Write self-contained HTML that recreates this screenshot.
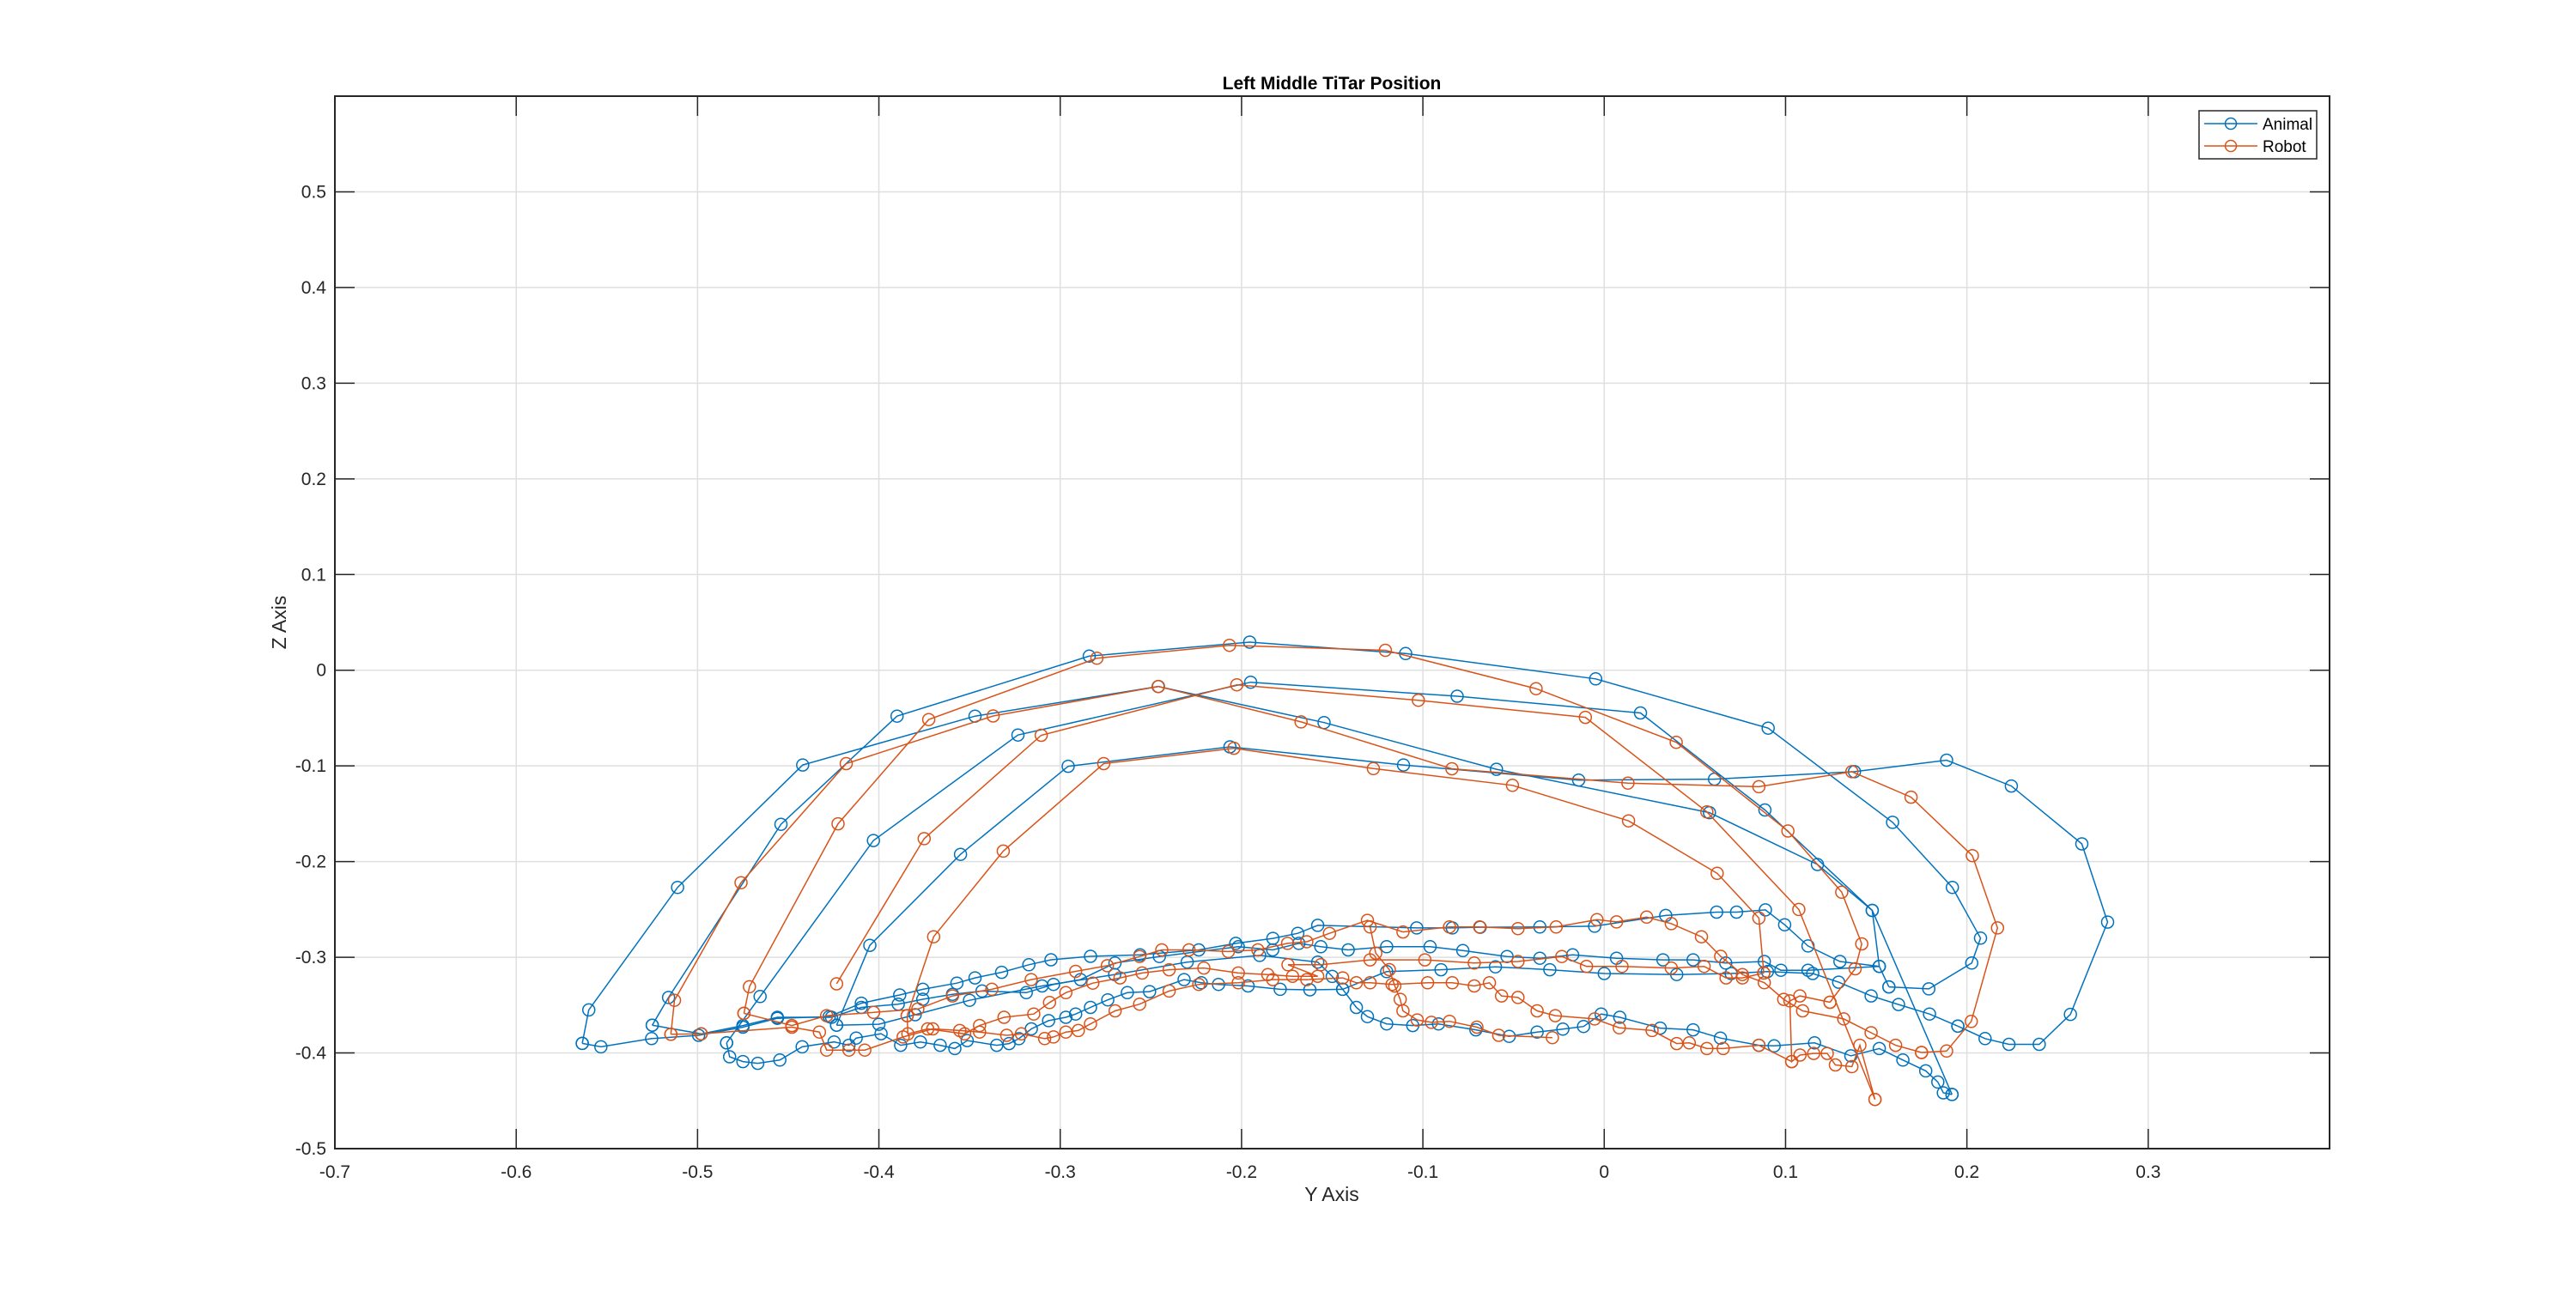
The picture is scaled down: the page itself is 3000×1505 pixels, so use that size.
<!DOCTYPE html>
<html><head><meta charset="utf-8"><style>
html,body{margin:0;padding:0;background:#fff;}
svg{display:block;font-family:"Liberation Sans",Arial,sans-serif;}
</style></head><body>
<svg id="chart" width="3000" height="1505" viewBox="0 0 3000 1505" xmlns="http://www.w3.org/2000/svg">
<rect x="0" y="0" width="3000" height="1505" fill="#fff"/>
<g id="grid"></g>
<g id="series"></g>
<g id="axes"></g>
<text x="1551" y="104" text-anchor="middle" font-size="21" font-weight="bold" fill="#000">Left Middle TiTar Position</text>
<text x="1551" y="1399" text-anchor="middle" font-size="23" fill="#262626">Y Axis</text>
<text x="0" y="0" transform="translate(333,725) rotate(-90)" text-anchor="middle" font-size="23" fill="#262626">Z Axis</text>
<g>
<rect x="2561" y="129" width="137" height="56" fill="#fff" stroke="#262626" stroke-width="1.5"/>
<g>
<line x1="2567" y1="144" x2="2629" y2="144" stroke="#0072BD" stroke-width="1.5"/>
<circle cx="2598" cy="144" r="6.5" fill="none" stroke="#0072BD" stroke-width="1.5"/>
<text x="2635" y="151" font-size="19" fill="#000">Animal</text></g>
<g>
<line x1="2567" y1="170" x2="2629" y2="170" stroke="#D95319" stroke-width="1.5"/>
<circle cx="2598" cy="170" r="6.5" fill="none" stroke="#D95319" stroke-width="1.5"/>
<text x="2635" y="177" font-size="19" fill="#000">Robot</text></g>
</g>
</svg>
<script>
const xTicks=[-0.7,-0.6,-0.5,-0.4,-0.3,-0.2,-0.1,0,0.1,0.2,0.3];
const xTickLabels=["-0.7","-0.6","-0.5","-0.4","-0.3","-0.2","-0.1","0","0.1","0.2","0.3"];
const yTicks=[-0.5,-0.4,-0.3,-0.2,-0.1,0,0.1,0.2,0.3,0.4,0.5];
const yTickLabels=["-0.5","-0.4","-0.3","-0.2","-0.1","0","0.1","0.2","0.3","0.4","0.5"];
const xLim=[-0.7,0.4], yLim=[-0.5,0.6];

const animalSwingA=[[-0.5636,-0.39],[-0.56,-0.355],[-0.511,-0.227],[-0.442,-0.099],[-0.347,-0.048],[-0.246,-0.017],[-0.1545,-0.0547],[-0.0594,-0.1035],[0.058,-0.1488],[0.1176,-0.203],[0.1478,-0.251],[0.1517,-0.3095]];
const animalSwingB=[[-0.525,-0.371],[-0.516,-0.342],[-0.454,-0.161],[-0.390,-0.048],[-0.284,0.0147],[-0.1955,0.0294],[-0.1095,0.0174],[-0.0047,-0.009],[0.0904,-0.0605],[0.159,-0.159],[0.192,-0.227],[0.2075,-0.28],[0.2027,-0.306],[0.179,-0.333],[0.157,-0.331]];
const animalSwingC=[[-0.484,-0.3895],[-0.4655,-0.341],[-0.403,-0.178],[-0.3233,-0.0677],[-0.195,-0.0125],[-0.0811,-0.0272],[0.02,-0.0447],[0.0886,-0.146],[0.1478,-0.251],[0.1918,-0.4434]];
const animalSwingD=[[-0.4233,-0.371],[-0.405,-0.2875],[-0.355,-0.1924],[-0.2956,-0.1004],[-0.2064,-0.0801],[-0.1107,-0.099],[-0.0141,-0.1148],[0.0608,-0.1138],[0.138,-0.106],[0.1888,-0.094],[0.2245,-0.121],[0.2634,-0.1815],[0.2776,-0.2632],[0.2571,-0.3597],[0.2399,-0.391],[0.2232,-0.391],[0.21,-0.385],[0.195,-0.372]];
const animalStance1=[[0.157,-0.331],[0.1517,-0.3095],[0.13,-0.3044],[0.1124,-0.2882],[0.0995,-0.266],[0.0889,-0.2505],[0.073,-0.2528],[0.062,-0.2528],[0.0339,-0.2563],[-0.0053,-0.2675],[-0.0355,-0.2683],[-0.0684,-0.2686],[-0.0838,-0.2693],[-0.1034,-0.2693],[-0.158,-0.2666],[-0.169,-0.275],[-0.1827,-0.2803],[-0.2032,-0.2855],[-0.2236,-0.2923],[-0.256,-0.2975],[-0.2833,-0.299],[-0.3051,-0.3026],[-0.3173,-0.3078],[-0.3323,-0.3157],[-0.347,-0.3215],[-0.357,-0.327],[-0.3758,-0.3335],[-0.3885,-0.3394],[-0.4097,-0.348],[-0.4274,-0.362],[-0.456,-0.3638],[-0.475,-0.373],[-0.4994,-0.3816],[-0.5253,-0.385],[-0.5533,-0.3936],[-0.5636,-0.39]];
const animalStance2=[[0.1517,-0.3095],[0.1124,-0.3136],[0.0974,-0.3136],[0.0883,-0.3044],[0.067,-0.306],[0.049,-0.3027],[0.0324,-0.3027],[0.0068,-0.301],[-0.0174,-0.2975],[-0.0355,-0.301],[-0.0536,-0.2992],[-0.078,-0.293],[-0.096,-0.289],[-0.12,-0.289],[-0.1412,-0.2923],[-0.1563,-0.289],[-0.1684,-0.2855],[-0.1828,-0.2923],[-0.2018,-0.289],[-0.2453,-0.2992],[-0.2698,-0.306],[-0.2888,-0.3233],[-0.3037,-0.3284],[-0.3187,-0.337],[-0.3431,-0.3353],[-0.3594,-0.3387],[-0.3758,-0.3439],[-0.3893,-0.349],[-0.4097,-0.3524],[-0.4261,-0.3627],[-0.456,-0.3627],[-0.475,-0.3713],[-0.498,-0.38],[-0.525,-0.371]];
const animalStance3=[[0.195,-0.372],[0.1794,-0.3593],[0.1623,-0.3494],[0.1472,-0.3404],[0.1293,-0.326],[0.115,-0.317],[0.09,-0.315],[0.07,-0.317],[0.04,-0.318],[0.0,-0.317],[-0.03,-0.313],[-0.06,-0.31],[-0.09,-0.313],[-0.12,-0.315],[-0.1442,-0.3335],[-0.1623,-0.334],[-0.1787,-0.3335],[-0.1964,-0.33],[-0.2127,-0.3284],[-0.2222,-0.3267],[-0.2317,-0.3233],[-0.2507,-0.3359],[-0.263,-0.337],[-0.2738,-0.3445],[-0.2833,-0.3524],[-0.2915,-0.3593],[-0.2969,-0.3627],[-0.3064,-0.3662],[-0.3159,-0.3748],[-0.3228,-0.3851],[-0.3282,-0.3902],[-0.335,-0.392],[-0.3513,-0.387],[-0.3581,-0.3954],[-0.3662,-0.392],[-0.3771,-0.3885],[-0.388,-0.392],[-0.3988,-0.3799],[-0.4125,-0.3844],[-0.4165,-0.392],[-0.4247,-0.3885],[-0.4423,-0.3936],[-0.4546,-0.4074],[-0.4668,-0.4108],[-0.475,-0.409],[-0.4823,-0.404],[-0.484,-0.3895]];
const animalStance4=[[0.1918,-0.4434],[0.187,-0.4417],[0.184,-0.4304],[0.1773,-0.4187],[0.1647,-0.4074],[0.1517,-0.3954],[0.136,-0.403],[0.116,-0.3895],[0.0937,-0.3926],[0.0853,-0.392],[0.0641,-0.3844],[0.049,-0.3758],[0.0309,-0.374],[0.0086,-0.3627],[-0.0017,-0.3593],[-0.0114,-0.3723],[-0.0228,-0.3751],[-0.037,-0.3782],[-0.0524,-0.3826],[-0.0708,-0.3758],[-0.0914,-0.3696],[-0.1056,-0.3713],[-0.12,-0.3696],[-0.1306,-0.362],[-0.1367,-0.3524],[-0.1442,-0.3335],[-0.15,-0.32],[-0.158,-0.305],[-0.19,-0.298],[-0.23,-0.305],[-0.27,-0.318],[-0.31,-0.33],[-0.35,-0.345],[-0.38,-0.36],[-0.4,-0.37],[-0.4233,-0.371]];

const robotSwingA=[[-0.5147,-0.3805],[-0.5127,-0.345],[-0.476,-0.222],[-0.418,-0.0976],[-0.337,-0.0478],[-0.2458,-0.0169],[-0.1672,-0.054],[-0.084,-0.103],[0.0131,-0.118],[0.0853,-0.1217],[0.1366,-0.106],[0.1692,-0.1327],[0.203,-0.1938],[0.2169,-0.2693],[0.2024,-0.367],[0.1888,-0.398],[0.175,-0.3995]];
const robotSwingB=[[-0.4744,-0.3586],[-0.4714,-0.3308],[-0.4225,-0.1605],[-0.3725,-0.0516],[-0.2798,0.0126],[-0.2067,0.026],[-0.1207,0.0208],[-0.0376,-0.0193],[0.0397,-0.0753],[0.1013,-0.168],[0.131,-0.232],[0.142,-0.286],[0.1384,-0.312],[0.1245,-0.347]];
const robotSwingC=[[-0.4233,-0.3277],[-0.375,-0.176],[-0.3105,-0.068],[-0.2026,-0.0152],[-0.1025,-0.0314],[-0.0104,-0.0492],[0.0566,-0.148],[0.1073,-0.25],[0.1493,-0.4486]];
const robotSwingD=[[-0.3844,-0.361],[-0.3698,-0.2786],[-0.3314,-0.189],[-0.276,-0.0976],[-0.2042,-0.0815],[-0.1273,-0.1028],[-0.0506,-0.1203],[0.0134,-0.1574],[0.0623,-0.2123],[0.0853,-0.259],[0.088,-0.3164]];
const robotStance1=[[0.175,-0.3995],[0.1607,-0.392],[0.1472,-0.3789],[0.1321,-0.3644],[0.1094,-0.356],[0.099,-0.344],[0.0883,-0.3266],[0.0762,-0.318],[0.0642,-0.299],[0.0536,-0.2786],[0.037,-0.2648],[0.0234,-0.258],[0.0068,-0.263],[-0.004,-0.2607],[-0.0265,-0.2683],[-0.0476,-0.27],[-0.0687,-0.2683],[-0.0853,-0.2683],[-0.111,-0.2735],[-0.1306,-0.2614],[-0.1515,-0.275],[-0.164,-0.2838],[-0.1746,-0.2855],[-0.191,-0.2923],[-0.2073,-0.294],[-0.229,-0.2923],[-0.244,-0.2923],[-0.2562,-0.2992],[-0.274,-0.3088],[-0.2915,-0.3147],[-0.316,-0.3233],[-0.3377,-0.3335],[-0.3594,-0.3404],[-0.3785,-0.3541],[-0.4029,-0.3576],[-0.4288,-0.361],[-0.448,-0.3713],[-0.4744,-0.3586]];
const robotStance2=[[0.088,-0.3164],[0.0762,-0.3215],[0.0672,-0.3215],[0.0551,-0.3095],[0.037,-0.3112],[0.0098,-0.3095],[-0.0098,-0.3095],[-0.0234,-0.2992],[-0.0476,-0.3044],[-0.0717,-0.306],[-0.0989,-0.3027],[-0.1291,-0.3027],[-0.1563,-0.3078],[-0.1744,-0.3078],[-0.158,-0.3198],[-0.1719,-0.3198],[-0.1855,-0.3181],[-0.2018,-0.3164],[-0.2208,-0.3112],[-0.2399,-0.313],[-0.2548,-0.3164],[-0.267,-0.3215],[-0.282,-0.327],[-0.2969,-0.337],[-0.3059,-0.3473],[-0.3146,-0.3593],[-0.331,-0.3627],[-0.3445,-0.3713],[-0.3527,-0.38],[-0.3731,-0.3748],[-0.384,-0.38],[-0.3844,-0.361]];
const robotStance3=[[0.1245,-0.347],[0.1079,-0.3404],[0.1024,-0.3456],[0.1034,-0.409],[0.108,-0.4022],[0.1155,-0.4005],[0.123,-0.4005],[0.1275,-0.4125],[0.1366,-0.4143],[0.141,-0.392],[0.1493,-0.4486]];
const robotStance4=[[0.1034,-0.409],[0.0853,-0.392],[0.0656,-0.3954],[0.0566,-0.3954],[0.0469,-0.3895],[0.04,-0.3902],[0.0264,-0.3765],[0.0083,-0.3737],[-0.0053,-0.3644],[-0.027,-0.361],[-0.037,-0.356],[-0.0476,-0.342],[-0.0566,-0.3404],[-0.0633,-0.3267],[-0.0717,-0.33],[-0.0838,-0.3267],[-0.0974,-0.3267],[-0.117,-0.3284],[-0.1291,-0.3267],[-0.1367,-0.3267],[-0.1442,-0.3215],[-0.164,-0.3233],[-0.1828,-0.3233],[-0.2018,-0.3267],[-0.2236,-0.3284],[-0.2399,-0.3353],[-0.2562,-0.349],[-0.2697,-0.356],[-0.2833,-0.3696],[-0.29,-0.3765],[-0.2969,-0.3782],[-0.3037,-0.3833],[-0.3086,-0.385],[-0.3214,-0.38],[-0.3295,-0.3816],[-0.3445,-0.3782],[-0.3554,-0.3765],[-0.3703,-0.3748],[-0.3866,-0.3833],[-0.4078,-0.397],[-0.4165,-0.397],[-0.4288,-0.397],[-0.4328,-0.3782],[-0.448,-0.373],[-0.498,-0.38],[-0.5147,-0.3805]];
const robotStance5=[[-0.0286,-0.384],[-0.0582,-0.3816],[-0.0702,-0.373],[-0.0853,-0.3669],[-0.0953,-0.368],[-0.1031,-0.3655],[-0.111,-0.356],[-0.1125,-0.344],[-0.1155,-0.3301],[-0.1185,-0.3129],[-0.126,-0.2957],[-0.1291,-0.2683]];

const animalStrokes=[animalSwingA,animalSwingB,animalSwingC,animalSwingD,animalStance1,animalStance2,animalStance3,animalStance4];
const robotStrokes=[robotSwingA,robotSwingB,robotSwingC,robotSwingD,robotStance1,robotStance2,robotStance3,robotStance4,robotStance5];

const L=390,R=2713,T=112,B=1338;
function sx(v){return L+(v-xLim[0])/(xLim[1]-xLim[0])*(R-L);}
function sy(v){return B-(v-yLim[0])/(yLim[1]-yLim[0])*(B-T);}
const NS="http://www.w3.org/2000/svg";
function mk(tag,attrs,parent){const e=document.createElementNS(NS,tag);for(const k in attrs)e.setAttribute(k,attrs[k]);parent.appendChild(e);return e;}
const grid=document.getElementById('grid'),axes=document.getElementById('axes'),series=document.getElementById('series');
xTicks.forEach((t,i)=>{const x=sx(t);
 const g=mk('line',{x1:x,y1:T,x2:x,y2:B,stroke:'#dfdfdf','stroke-width':1.5},grid);
 
 
 const a=mk('line',{x1:x,y1:B,x2:x,y2:B-23,stroke:'#262626','stroke-width':1.5},axes);
 
 
 const b=mk('line',{x1:x,y1:T,x2:x,y2:T+23,stroke:'#262626','stroke-width':1.5},axes);
 
 
 const tx=mk('text',{x:x,y:B+34,'text-anchor':'middle','font-size':21,fill:'#262626'},axes);
 tx.textContent=xTickLabels[i];
 
 
});
yTicks.forEach((t,i)=>{const y=sy(t);
 const g=mk('line',{x1:L,y1:y,x2:R,y2:y,stroke:'#dfdfdf','stroke-width':1.5},grid);
 
 
 const a=mk('line',{x1:L,y1:y,x2:L+23,y2:y,stroke:'#262626','stroke-width':1.5},axes);
 
 
 const b=mk('line',{x1:R,y1:y,x2:R-23,y2:y,stroke:'#262626','stroke-width':1.5},axes);
 
 
 const tx=mk('text',{x:L-10,y:y+7,'text-anchor':'end','font-size':21,fill:'#262626'},axes);
 tx.textContent=yTickLabels[i];
 
 
});
const box=mk('rect',{x:L,y:T,width:R-L,height:B-T,fill:'none',stroke:'#262626','stroke-width':2},axes);


function drawSeries(strokes,color,name){
 const g=mk('g',{},series);
 
 
 strokes.forEach(st=>{
  const p=mk('polyline',{points:st.map(d=>sx(d[0]).toFixed(1)+','+sy(d[1]).toFixed(1)).join(' '),fill:'none',stroke:color,'stroke-width':1.5},g);
  
  
  st.forEach(d=>{
   const c=mk('circle',{cx:sx(d[0]).toFixed(1),cy:sy(d[1]).toFixed(1),r:7,fill:'none',stroke:color,'stroke-width':1.5},g);
   
   
  });
 });
}
drawSeries(animalStrokes,'#0072BD','animal');
drawSeries(robotStrokes,'#D95319','robot');
</script>
</body></html>
